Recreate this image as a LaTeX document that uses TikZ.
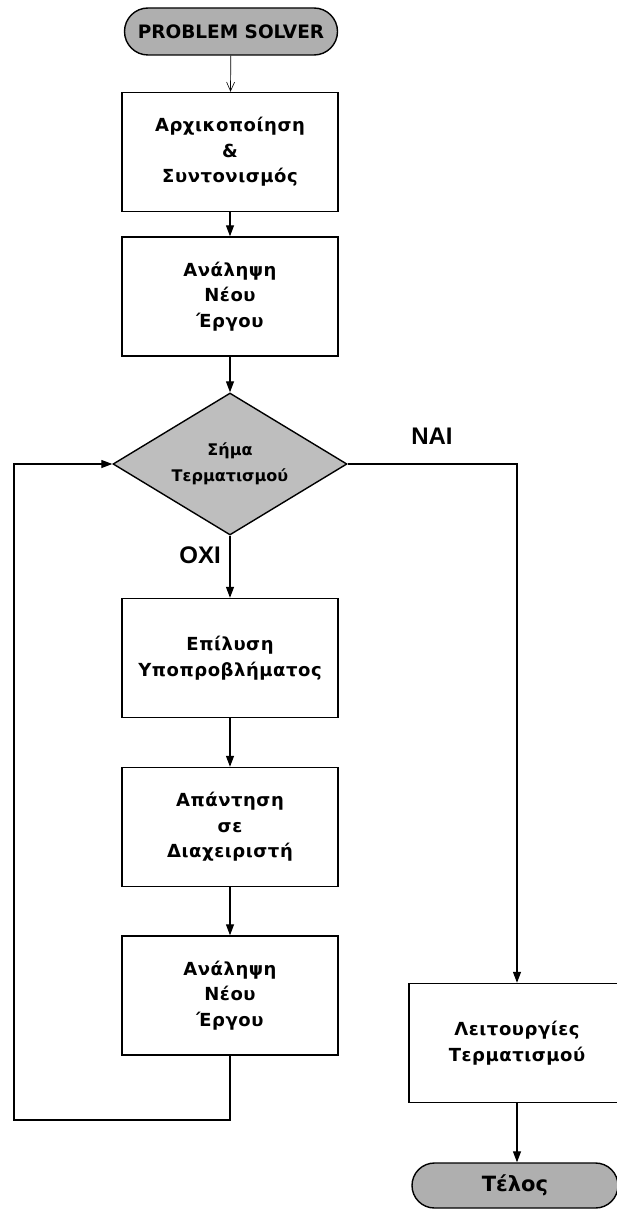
\documentclass[tikz,border=0pt]{standalone}
\usepackage{fontspec}
\usetikzlibrary{shapes.geometric,shapes.misc,arrows.meta}
\newfontfamily\flowfont{DejaVu Sans}[LetterSpace=3]
\newfontfamily\plainflowfont{DejaVu Sans}
\newfontfamily\tagfont{Liberation Sans}
\definecolor{termgray}{RGB}{175,175,175}
\definecolor{decgray}{RGB}{190,190,190}

\begin{document}
\begin{tikzpicture}[x=1pt,y=-1pt,
  stepbox/.style={draw, line width=1.4pt, fill=white, minimum width=216pt,
    minimum height=119pt, inner sep=0pt, align=center,
    font=\flowfont\bfseries\fontsize{18}{25.5}\selectfont},
  term/.style={draw, line width=1.4pt, fill=termgray, rounded rectangle,
    rounded rectangle arc length=180, inner sep=0pt},
  decision/.style={draw, line width=1.4pt, fill=decgray, diamond,
    minimum width=234pt, minimum height=142pt, inner sep=0pt},
  dectext/.style={align=center, inner sep=0pt,
    font=\plainflowfont\bfseries\fontsize{16}{26}\selectfont},
  flow/.style={line width=1.2pt, -{Triangle[length=11pt,width=8pt]}},
  thinflow/.style={line width=0.7pt, -{Straight Barb[length=9pt,width=8pt,line width=0.6pt]}},
  tag/.style={font=\tagfont\bfseries\fontsize{24}{24}\selectfont}
]
\useasboundingbox (0,0) rectangle (616,1209);

% main column
\node[term, minimum width=213pt, minimum height=47pt,
  font=\plainflowfont\bfseries\fontsize{18.5}{18.5}\selectfont] (start) at (231,31.5) {PROBLEM SOLVER};
\node[stepbox] (init) at (230,152) {Αρχικοποίηση\\\&\\Συντονισμός};
\node[stepbox] (take1) at (230,296.5) {Ανάληψη\\Νέου\\Έργου};
\node[decision] (dec) at (230,464) {};
\node[dectext] (dectxt) at (dec.center) {Σήμα\\Τερματισμού};
\node[stepbox] (solve) at (230,658) {Επίλυση\\Υποπροβλήματος};
\node[stepbox] (reply) at (230,827) {Απάντηση\\σε\\Διαχειριστή};
\node[stepbox] (take2) at (230,995.5) {Ανάληψη\\Νέου\\Έργου};

% termination branch
\node[stepbox] (stopops) at (517,1043) {Λειτουργίες\\Τερματισμού};
\node[term, minimum width=206pt, minimum height=45pt,
  font=\plainflowfont\bfseries\fontsize{21}{21}\selectfont] (end) at (515,1185.5) {Τέλος};

% branch labels
\node[tag] (yes) at (432,436) {ΝΑΙ};
\node[tag] (no) at (200,555) {ΟΧΙ};

% connectors
\coordinate (loopcorner) at (14,1120);
\draw[thinflow] (start) -- (init);
\draw[flow] (init) -- (take1);
\draw[flow] (take1) -- (dec);
\draw[flow] (dec) -- (solve);
\draw[flow] (solve) -- (reply);
\draw[flow] (reply) -- (take2);
\draw[flow] (take2.south) |- (loopcorner) |- (dec.west);
\draw[flow] (dec.east) -| (stopops.north);
\draw[flow] (stopops.south) -- (stopops.south |- end.north);
\end{tikzpicture}
\end{document}
